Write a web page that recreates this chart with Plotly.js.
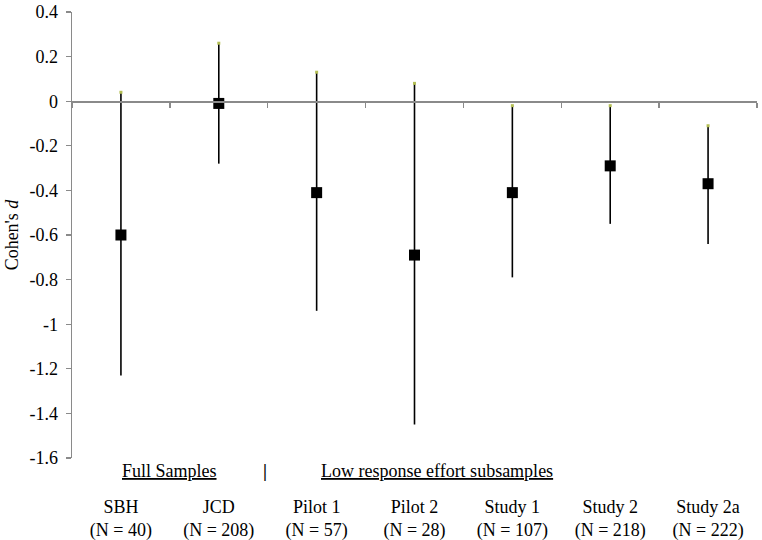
<!DOCTYPE html>
<html>
<head>
<meta charset="utf-8">
<script src="https://cdn.plot.ly/plotly-3.0.1.min.js"></script>
<style>html,body{margin:0;padding:0;background:#fff;}#chart{width:762px;height:540px;}</style>
</head>
<body>
<div id="chart"></div>
<script>
const categories = ["SBH", "JCD", "Pilot 1", "Pilot 2", "Study 1", "Study 2", "Study 2a"];
const sampleSizes = [40, 208, 57, 28, 107, 218, 222];
const cohensD = [-0.60, -0.01, -0.41, -0.69, -0.41, -0.29, -0.37];
const upperCI = [0.04, 0.26, 0.13, 0.08, -0.02, -0.02, -0.11];
const lowerCI = [-1.23, -0.28, -0.94, -1.45, -0.79, -0.55, -0.64];
const yTicks = [0.4, 0.2, 0, -0.2, -0.4, -0.6, -0.8, -1, -1.2, -1.4, -1.6];

const font = "Liberation Serif";
const gray = "#8a8a8a";

const tickText = categories.map((c, i) => c + "<br>(N = " + sampleSizes[i] + ")");

const pointTrace = {
  type: "scatter", mode: "markers",
  x: categories, y: cohensD,
  xaxis: "x", yaxis: "y",
  marker: {symbol: "square", size: 11, color: "#000"},
  error_y: {
    type: "data", symmetric: false,
    array: upperCI.map((u, i) => u - cohensD[i]),
    arrayminus: lowerCI.map((l, i) => cohensD[i] - l),
    color: "#000", thickness: 1.6, width: 0
  },
  hoverinfo: "skip", showlegend: false
};

const topDots = {
  type: "scatter", mode: "markers",
  x: categories, y: upperCI,
  xaxis: "x2", yaxis: "y",
  marker: {symbol: "square", size: 3, color: "#b4bf55"},
  hoverinfo: "skip", showlegend: false
};

const yMin = -1.6, yMax = 0.4;

const layout = {
  width: 762, height: 540,
  margin: {l: 72, r: 5, t: 12, b: 82, pad: 0},
  paper_bgcolor: "#fff", plot_bgcolor: "#fff",
  font: {family: font, size: 18, color: "#000"},
  showlegend: false,
  xaxis: {
    type: "category", categoryorder: "array", categoryarray: categories,
    range: [-0.5, 6.5],
    tickvals: categories, ticktext: tickText,
    showline: false, showgrid: false, zeroline: false, ticks: "",
    ticklabelstandoff: 36,
    tickfont: {family: font, size: 18, color: "#000"},
    fixedrange: true
  },
  xaxis2: {
    type: "category", categoryorder: "array", categoryarray: categories,
    range: [-0.5, 6.5],
    overlaying: "x", anchor: "free",
    position: (0 - yMin) / (yMax - yMin),
    showline: true, linecolor: gray, linewidth: 1.3,
    ticks: "outside", tickson: "boundaries", ticklen: 5, tickcolor: gray, tickwidth: 1.3,
    showticklabels: false, showgrid: false, zeroline: false,
    fixedrange: true
  },
  yaxis: {
    range: [yMin, yMax],
    tickvals: yTicks, ticktext: yTicks.map(v => String(v)),
    showline: true, linecolor: gray, linewidth: 1.3,
    ticks: "outside", ticklen: 5, tickcolor: gray, tickwidth: 1.3,
    ticklabelstandoff: 4,
    showgrid: false, zeroline: false,
    tickfont: {family: font, size: 18, color: "#000"},
    title: {text: "Cohen's <i>d</i>", font: {family: font, size: 18, color: "#000"}, standoff: 6},
    fixedrange: true
  },
  annotations: [
    {xref: "paper", yref: "paper", x: (169 - 72) / 685, y: -(471 - 458) / 446,
     xanchor: "center", yanchor: "middle", showarrow: false,
     text: "<u>Full Samples</u>", font: {family: font, size: 18, color: "#000"}},
    {xref: "paper", yref: "paper", x: (265 - 72) / 685, y: -(471 - 458) / 446,
     xanchor: "center", yanchor: "middle", showarrow: false,
     text: "<b>|</b>", font: {family: font, size: 18, color: "#000"}},
    {xref: "paper", yref: "paper", x: (437 - 72) / 685, y: -(471 - 458) / 446,
     xanchor: "center", yanchor: "middle", showarrow: false,
     text: "<u>Low response effort subsamples</u>", font: {family: font, size: 18, color: "#000"}}
  ]
};

Plotly.newPlot("chart", [pointTrace, topDots], layout, {displayModeBar: false, staticPlot: true});
</script>
</body>
</html>
